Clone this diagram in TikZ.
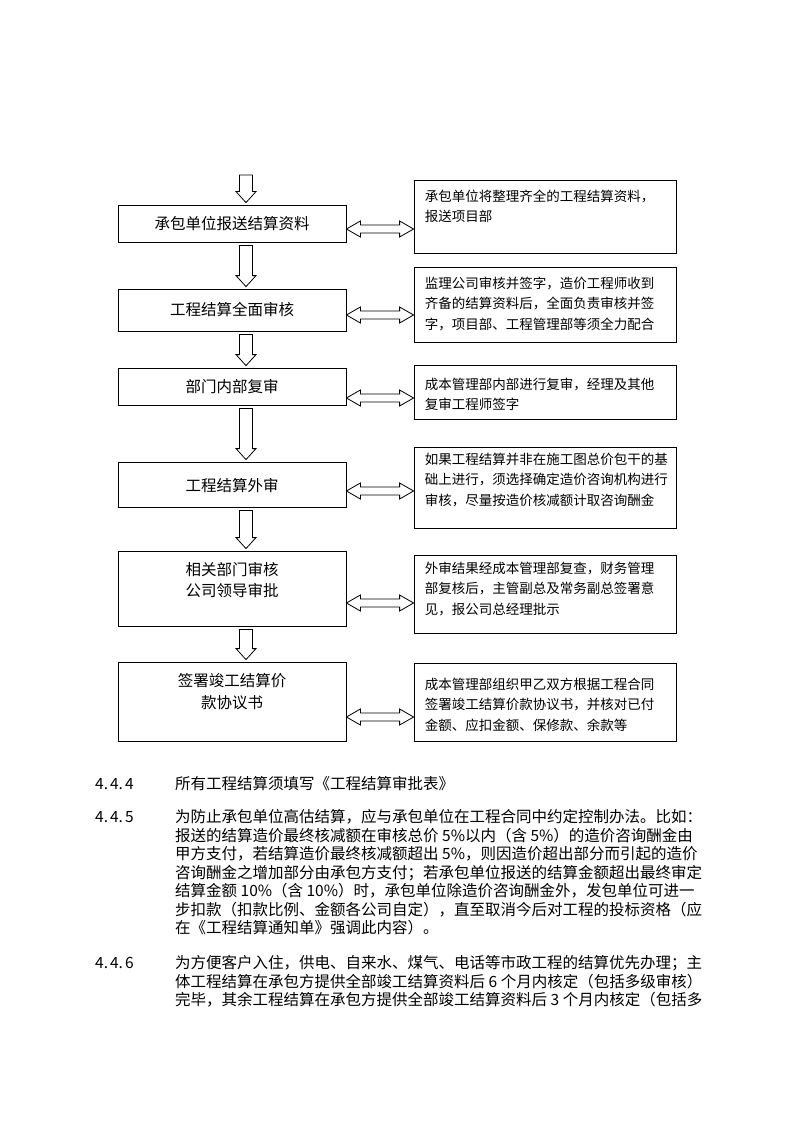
\documentclass[tikz,border=0pt]{standalone}
\usepackage{fontspec}
\setmainfont{Noto Sans CJK SC}
\usetikzlibrary{calc}

\tikzset{
  lbox/.style={draw, line width=0.8pt, minimum width=228pt, align=center, inner sep=0pt,
    font=\fontsize{15.5pt}{21pt}\selectfont},
  rbox/.style={draw, line width=0.8pt, minimum width=262pt, inner sep=0pt},
  rtext/.style={anchor=north west, align=left, inner sep=0pt,
    font=\fontsize{13.5pt}{20.5pt}\selectfont},
  ptext/.style={anchor=base west, inner sep=0pt, font=\fontsize{15.5pt}{18pt}\selectfont},
  hollow/.style={draw, line width=0.8pt, fill=white}
}

% hollow block arrow pointing down, from #1 to #2
\newcommand{\downblock}[2]{%
  \draw[hollow] let \p1=($(#1)+(14,3)$), \p2=($(#2)+(14,-2)$) in
    (\x1-6.5pt,\y1) -- (\x1+6.5pt,\y1) -- (\x1+6.5pt,\y2+11pt) -- (\x1+10pt,\y2+11pt)
    -- (\x1,\y2) -- (\x1-10pt,\y2+11pt) -- (\x1-6.5pt,\y2+11pt) -- cycle;}

% hollow block arrow with two heads, between #1 and #2, shifted down by #3
\newcommand{\twoway}[3]{%
  \draw[hollow] let \p1=($(#1.east)+(0,#3)$), \p2=(#2.west) in
    (\x1,\y1) -- (\x1+14pt,\y1+8pt) -- (\x1+14pt,\y1+4pt) -- (\x2-14pt,\y1+4pt)
    -- (\x2-14pt,\y1+8pt) -- (\x2,\y1) -- (\x2-14pt,\y1-8pt) -- (\x2-14pt,\y1-4pt)
    -- (\x1+14pt,\y1-4pt) -- (\x1+14pt,\y1-8pt) -- cycle;}

\begin{document}
\begin{tikzpicture}[x=1pt, y=-1pt]
  \useasboundingbox[fill=white] (0,0) rectangle (794,1123);

  % Left column: steps
  \coordinate (top) at (232,172);
  \node[lbox, minimum height=37pt] (l1) at (232,223.5) {承包单位报送结算资料};
  \node[lbox, minimum height=42pt] (l2) at (232,310) {工程结算全面审核};
  \node[lbox, minimum height=37pt] (l3) at (232,386.5) {部门内部复审};
  \node[lbox, minimum height=45pt, text height=16pt] (l4) at (232,484.5) {工程结算外审};
  \node[lbox, minimum height=75pt, text height=35pt, text depth=20pt] (l5) at (232,588.5)
    {相关部门审核\\公司领导审批};
  \node[lbox, minimum height=79pt, text height=36pt, text depth=23pt] (l6) at (232,701.5)
    {签署竣工结算价\\[1pt]\hspace*{12pt}款协议书\hspace*{12pt}};

  % Right column: notes
  \node[rbox, minimum height=73pt] (r1) at (545,216.5) {};
  \node[rbox, minimum height=75pt] (r2) at (545,304.5) {};
  \node[rbox, minimum height=54pt] (r3) at (545,392) {};
  \node[rbox, minimum height=81pt] (r4) at (545,487.5) {};
  \node[rbox, minimum height=78pt] (r5) at (545,594) {};
  \node[rbox, minimum height=78pt] (r6) at (545,702) {};

  \node[rtext] (n1) at ($(r1.north west)+(11,10)$)
    {承包单位将整理齐全的工程结算资料，\\报送项目部};
  \node[rtext] (n2) at ($(r2.north west)+(11,10)$)
    {监理公司审核并签字，造价工程师收到\\齐备的结算资料后，全面负责审核并签\\字，项目部、工程管理部等须全力配合};
  \node[rtext] (n3) at ($(r3.north west)+(11,13)$)
    {成本管理部内部进行复审，经理及其他\\复审工程师签字};
  \node[rtext] (n4) at ($(r4.north west)+(11,6)$)
    {如果工程结算并非在施工图总价包干的基\\础上进行，须选择确定造价咨询机构进行\\审核，尽量按造价核减额计取咨询酬金};
  \node[rtext] (n5) at ($(r5.north west)+(11,7)$)
    {外审结果经成本管理部复查，财务管理\\部复核后，主管副总及常务副总签署意\\见，报公司总经理批示};
  \node[rtext] (n6) at ($(r6.north west)+(11,15)$)
    {成本管理部组织甲乙双方根据工程合同\\签署竣工结算价款协议书，并核对已付\\金额、应扣金额、保修款、余款等};

  % Draw arrows
  \downblock{top}{l1.north}
  \foreach \a/\b in {l1/l2, l2/l3, l3/l4, l4/l5, l5/l6} {
    \downblock{\a.south}{\b.north}
  }
  \foreach \k/\dy in {1/5.5, 2/5, 3/11.5, 4/6.5, 5/14.5, 6/15.5} {
    \twoway{l\k}{r\k}{\dy}
  }

  % Clauses below the chart
  \node[ptext] (k1) at (95,789) {4.\kern2pt4.\kern2pt4};
  \node[ptext] (p1) at (175,789) {所有工程结算须填写《工程结算审批表》};

  \node[ptext] (k2) at (95,822) {4.\kern2pt4.\kern2pt5};
  \node[ptext] (p2) at (175,822) {为防止承包单位高估结算，应与承包单位在工程合同中约定控制办法。比如：};
  \node[ptext] (p3) at (175,841) {报送的结算造价最终核减额在审核总价 5\%以内（含 5\%）的造价咨询酬金由};
  \node[ptext] (p4) at (175,859) {甲方支付，若结算造价最终核减额超出 5\%，则因造价超出部分而引起的造价};
  \node[ptext] (p5) at (175,878) {咨询酬金之增加部分由承包方支付；若承包单位报送的结算金额超出最终审定};
  \node[ptext] (p6) at (175,896) {结算金额 10\%（含 10\%）时，承包单位除造价咨询酬金外，发包单位可进一};
  \node[ptext] (p7) at (175,915) {步扣款（扣款比例、金额各公司自定），直至取消今后对工程的投标资格（应};
  \node[ptext] (p8) at (175,933) {在《工程结算通知单》强调此内容）。};

  \node[ptext] (k3) at (95,968) {4.\kern2pt4.\kern2pt6};
  \node[ptext] (p9) at (175,968) {为方便客户入住，供电、自来水、煤气、电话等市政工程的结算优先办理；主};
  \node[ptext] (p10) at (175,987) {体工程结算在承包方提供全部竣工结算资料后 6 个月内核定（包括多级审核）};
  \node[ptext] (p11) at (175,1005) {完毕，其余工程结算在承包方提供全部竣工结算资料后 3 个月内核定（包括多};
\end{tikzpicture}
\end{document}
